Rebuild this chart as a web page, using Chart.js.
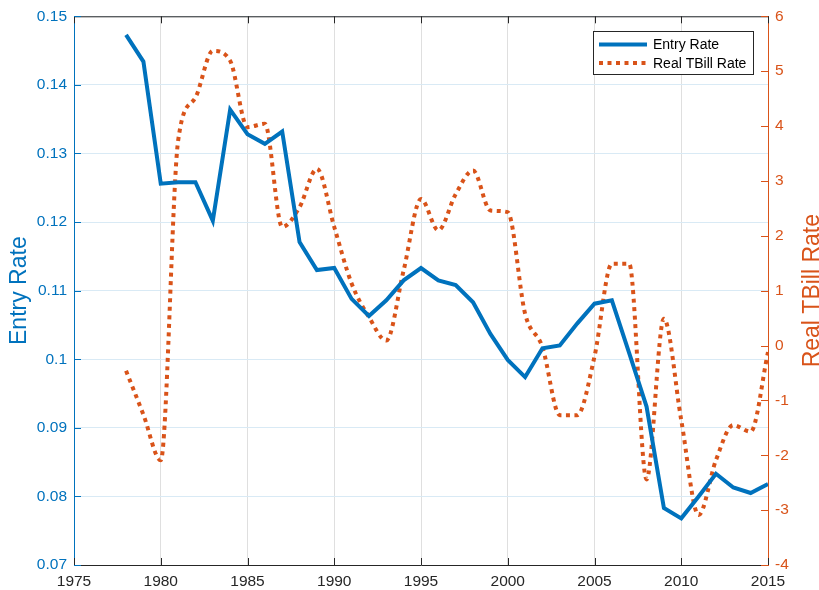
<!DOCTYPE html>
<html>
<head>
<meta charset="utf-8">
<script src="https://cdn.jsdelivr.net/npm/chart.js@4/dist/chart.umd.min.js"></script>
<style>
  html, body { margin: 0; padding: 0; background: #fff; }
  #wrap { position: relative; width: 819px; height: 590px; }
</style>
</head>
<body>
<div id="wrap"><canvas id="c" width="819" height="590"></canvas></div>
<script>
const years = [1978,1979,1980,1981,1982,1983,1984,1985,1986,1987,1988,1989,1990,1991,1992,1993,1994,1995,1996,1997,1998,1999,2000,2001,2002,2003,2004,2005,2006,2007,2008,2009,2010,2011,2012,2013,2014,2015];
const entryRate = [0.1473,0.1434,0.1256,0.1258,0.1258,0.1202,0.1364,0.1328,0.1314,0.1332,0.1171,0.1130,0.1133,0.1088,0.1063,0.1086,0.1115,0.1133,0.1115,0.1108,0.1083,0.1037,0.0999,0.0974,0.1016,0.1020,0.1052,0.1081,0.1086,0.1009,0.0931,0.0783,0.0768,0.0800,0.0833,0.0813,0.0805,0.0818];
const realTBill = [-0.46,-1.26,-2.09,3.73,4.52,5.37,5.19,3.98,4.04,2.16,2.52,3.22,2.16,1.13,0.52,0.09,1.37,2.67,2.10,2.76,3.19,2.46,2.43,0.58,-0.03,-1.27,-1.27,-0.20,1.49,1.49,-2.44,0.49,-1.36,-3.09,-2.09,-1.45,-1.57,-0.12];
const xTicks = [1975,1980,1985,1990,1995,2000,2005,2010,2015];
const leftTicks = [0.07,0.08,0.09,0.10,0.11,0.12,0.13,0.14,0.15];
const rightTicks = [-4,-3,-2,-1,0,1,2,3,4,5,6];
const seriesNames = ['Entry Rate','Real TBill Rate'];
const axisTitles = ['Entry Rate','Real TBill Rate'];

const BLUE = '#0072BD', ORANGE = '#D95319', DARK = '#262626';
const FONT = '"Liberation Sans", Arial, Helvetica, sans-serif';
const TICK_SIZE = 15.5, TITLE_SIZE = 23;

const decor = {
  id: 'decor',
  beforeDatasetsDraw(chart) {
    const ctx = chart.ctx, a = chart.chartArea;
    const x = chart.scales.x, yl = chart.scales.y, yr = chart.scales.y1;
    ctx.save();
    ctx.lineWidth = 1;
    ctx.strokeStyle = DARK;
    ctx.beginPath(); ctx.moveTo(a.left, a.top + 0.5); ctx.lineTo(a.right, a.top + 0.5); ctx.stroke();
    xTicks.forEach(v => {
      const px = Math.round(x.getPixelForValue(v)) + 0.5;
      ctx.beginPath(); ctx.moveTo(px, a.top); ctx.lineTo(px, a.top + 7); ctx.stroke();
      ctx.beginPath(); ctx.moveTo(px, a.bottom); ctx.lineTo(px, a.bottom - 7); ctx.stroke();
    });
    ctx.strokeStyle = BLUE;
    leftTicks.forEach(v => {
      const py = Math.round(yl.getPixelForValue(v)) + 0.5;
      ctx.beginPath(); ctx.moveTo(a.left, py); ctx.lineTo(a.left + 7, py); ctx.stroke();
    });
    ctx.strokeStyle = ORANGE;
    rightTicks.forEach(v => {
      const py = Math.round(yr.getPixelForValue(v)) + 0.5;
      ctx.beginPath(); ctx.moveTo(a.right, py); ctx.lineTo(a.right - 7, py); ctx.stroke();
    });
    ctx.restore();
  },
  afterDraw(chart) {
    const ctx = chart.ctx, a = chart.chartArea;
    const cy = (a.top + a.bottom) / 2;
    // axis titles, both reading bottom-to-top
    [[axisTitles[0], BLUE, 26], [axisTitles[1], ORANGE, 819]].forEach(([t, col, bx]) => {
      ctx.save();
      ctx.fillStyle = col;
      ctx.font = TITLE_SIZE + 'px ' + FONT;
      ctx.textAlign = 'center';
      ctx.textBaseline = 'alphabetic';
      ctx.translate(bx, cy);
      ctx.rotate(-Math.PI / 2);
      ctx.fillText(t, 0, 0);
      ctx.restore();
    });

    // legend box
    ctx.save();
    const bx = 593, by = 31, bw = 160, bh = 43;
    ctx.fillStyle = '#fff';
    ctx.fillRect(bx, by, bw, bh);
    ctx.strokeStyle = DARK;
    ctx.lineWidth = 1;
    ctx.strokeRect(bx + 0.5, by + 0.5, bw, bh);
    const ds = chart.data.datasets;
    const rows = [44.5, 63];
    ds.forEach((d, i) => {
      ctx.save();
      ctx.strokeStyle = d.borderColor;
      ctx.lineWidth = d.borderWidth;
      ctx.setLineDash(d.borderDash || []);
      ctx.lineCap = 'butt';
      ctx.beginPath(); ctx.moveTo(599, rows[i]); ctx.lineTo(647, rows[i]); ctx.stroke();
      ctx.restore();
      ctx.fillStyle = '#000';
      ctx.font = '14px ' + FONT;
      ctx.textAlign = 'left';
      ctx.textBaseline = 'middle';
      ctx.fillText(d.label, 653, rows[i] + 1);
    });
    ctx.restore();
  }
};

new Chart(document.getElementById('c'), {
  type: 'line',
  data: {
    datasets: [
      {
        label: seriesNames[0],
        data: years.map((y, i) => ({ x: y, y: entryRate[i] })),
        yAxisID: 'y',
        borderColor: BLUE,
        backgroundColor: BLUE,
        borderWidth: 4,
        pointRadius: 0,
        tension: 0,
        fill: false
      },
      {
        label: seriesNames[1],
        data: years.map((y, i) => ({ x: y, y: realTBill[i] })),
        yAxisID: 'y1',
        borderColor: ORANGE,
        backgroundColor: ORANGE,
        borderWidth: 4,
        borderDash: [4, 4.5],
        pointRadius: 0,
        cubicInterpolationMode: 'monotone',
        fill: false
      }
    ]
  },
  options: {
    responsive: false,
    animation: false,
    layout: { padding: { top: 15, right: 0, bottom: 0, left: 0 } },
    plugins: { legend: { display: false }, tooltip: { enabled: false } },
    scales: {
      x: {
        type: 'linear',
        min: 1975, max: 2015,
        afterBuildTicks: s => { s.ticks = xTicks.map(v => ({ value: v })); },
        afterFit: s => { s.height = 25; },
        ticks: { color: DARK, font: { family: FONT, size: TICK_SIZE }, padding: 7, maxRotation: 0, callback: v => String(v) },
        grid: { color: '#DFDFDF', drawTicks: false, lineWidth: 1 },
        border: { color: DARK, width: 1 }
      },
      y: {
        type: 'linear',
        position: 'left',
        min: 0.07, max: 0.15,
        afterBuildTicks: s => { s.ticks = leftTicks.map(v => ({ value: v })); },
        afterFit: s => { s.width = 74; },
        ticks: { color: BLUE, font: { family: FONT, size: TICK_SIZE }, padding: 7, callback: v => String(Number(v.toFixed(2))) },
        grid: { color: '#D9EAF5', drawTicks: false, lineWidth: 1 },
        border: { color: BLUE, width: 1 }
      },
      y1: {
        type: 'linear',
        position: 'right',
        min: -4, max: 6,
        afterBuildTicks: s => { s.ticks = rightTicks.map(v => ({ value: v })); },
        afterFit: s => { s.width = 51; },
        ticks: { color: ORANGE, font: { family: FONT, size: TICK_SIZE }, padding: 7, callback: v => String(v) },
        grid: { drawOnChartArea: false, drawTicks: false },
        border: { color: ORANGE, width: 1 }
      }
    }
  },
  plugins: [decor]
});
</script>
</body>
</html>
